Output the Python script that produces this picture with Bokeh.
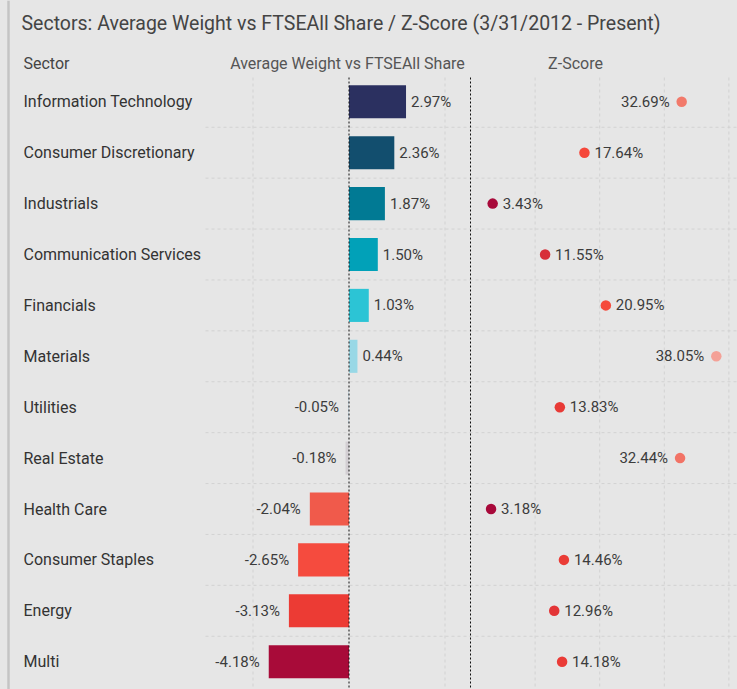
from bokeh.plotting import figure
from bokeh.models import Range1d, ColumnDataSource, GlobalInlineStyleSheet
from bokeh.core.properties import value
from bokeh.embed import file_html
from bokeh.resources import INLINE

# ---------------- data ----------------
sectors = ["Information Technology", "Consumer Discretionary", "Industrials",
           "Communication Services", "Financials", "Materials", "Utilities",
           "Real Estate", "Health Care", "Consumer Staples", "Energy", "Multi"]
avg_weight = [2.97, 2.36, 1.87, 1.50, 1.03, 0.44, -0.05, -0.18, -2.04, -2.65, -3.13, -4.18]
z_score = [32.69, 17.64, 3.43, 11.55, 20.95, 38.05, 13.83, 32.44, 3.18, 14.46, 12.96, 14.18]
bar_colors = ["#2b3060", "#124e6e", "#017a94", "#01a1b8", "#2cc4d5", "#98d8e6",
              "#c8d6de", "#d3cfd3", "#f05a4b", "#f54b3e", "#ec3b34", "#a80b39"]
dot_colors = ["#f27a6b", "#f5473a", "#a8093a", "#d72f38", "#f54a3b", "#f4a197",
              "#e83a36", "#f27366", "#a8093a", "#ea3c36", "#e33537", "#ea3b37"]
bar_grid_ticks = [-5, 5]
z_grid_ticks = [10, 20, 30, 40]
title_text = "Sectors:  Average Weight vs FTSEAll Share / Z-Score (3/31/2012 - Present)"
header_sector = "Sector"
header_weight = "Average Weight vs FTSEAll Share"
header_z = "Z-Score"

# ---------------- geometry (picture pixels) ----------------
W, H = 737, 689
OFF = 0
BAR_ZERO, BAR_PX = 348.5, 19.2
Z_ZERO, Z_PX = 470.0, 6.46
ROW0, ROW_H = 101.3, 50.9
FRAME_TOP = 77
GRID_LEFT = 205
FONT = value("Roboto")
BG = "#e6e6e6"


def bx(px):
    return (px - BAR_ZERO) / BAR_PX


def zx(px):
    return (px - Z_ZERO) / Z_PX


def ry(py):
    return (py - ROW0) / ROW_H


p = figure(width=W, height=H, output_backend="svg", toolbar_location=None,
           x_range=Range1d(bx(OFF), bx(OFF + W)),
           y_range=Range1d(ry(OFF + H), ry(OFF)),
           x_axis_location=None, y_axis_location=None,
           min_border=0, outline_line_color=None)
p.extra_x_ranges = {"z": Range1d(zx(OFF), zx(OFF + W))}
p.grid.visible = False
p.background_fill_color = BG
p.border_fill_color = BG
p.stylesheets = [GlobalInlineStyleSheet(css="html,body{background:%s;}" % BG)]

idx = list(range(len(sectors)))
y_top, y_bot = ry(FRAME_TOP), ry(OFF + H)
grid_col = "#d2d2d2"

# horizontal grid lines between rows
hy = [i + 0.5 for i in idx[:-1]]
p.segment(x0=bx(GRID_LEFT), x1=bx(OFF + W), y0=hy, y1=hy,
          line_color=grid_col, line_width=1, line_dash="3 3")
# vertical grid lines
p.segment(x0=bar_grid_ticks, x1=bar_grid_ticks, y0=y_top, y1=y_bot,
          line_color=grid_col, line_width=1, line_dash="3 3")
p.segment(x0=z_grid_ticks, x1=z_grid_ticks, y0=y_top, y1=y_bot, x_range_name="z",
          line_color=grid_col, line_width=1, line_dash="3 3")

# left border
p.segment(x0=bx(8), x1=bx(8), y0=ry(OFF + H), y1=ry(OFF),
          line_color="#c4c4c4", line_width=2.5)

# bars
p.hbar(y=idx, left=0, right=avg_weight, height=0.65, fill_color=bar_colors,
       line_color=None)

# zero lines
p.segment(x0=[0], x1=[0], y0=y_top, y1=y_bot, line_color="#111111",
          line_width=1, line_dash="2 2")
p.segment(x0=[0], x1=[0], y0=y_top, y1=y_bot, x_range_name="z",
          line_color="#111111", line_width=1, line_dash="2 2")

# bar labels
bsrc = ColumnDataSource(dict(
    x=avg_weight, y=idx,
    text=["%.2f%%" % v for v in avg_weight],
    align=["left" if v >= 0 else "right" for v in avg_weight],
    off=[5 if v >= 0 else -9 for v in avg_weight],
))
p.text(x="x", y="y", text="text", source=bsrc, text_align="align", x_offset="off",
       text_baseline="middle", text_font=FONT, text_font_size="15px",
       text_color="#3c3c3c")

# z-score dots and labels
p.scatter(x=z_score, y=idx, x_range_name="z", size=10.5, fill_color=dot_colors,
          line_color=None)
zsrc = ColumnDataSource(dict(
    x=z_score, y=idx,
    text=["%.2f%%" % v for v in z_score],
    align=["right" if v > 30 else "left" for v in z_score],
    off=[-12 if v > 30 else 10 for v in z_score],
))
p.text(x="x", y="y", text="text", source=zsrc, x_range_name="z",
       text_align="align", x_offset="off", text_baseline="middle",
       text_font=FONT, text_font_size="15px", text_color="#3c3c3c")

# row labels
p.text(x=[bx(23)] * len(sectors), y=idx, text=sectors, text_align="left",
       text_baseline="middle", text_font=FONT, text_font_size="16px",
       text_color="#333333")

# headers
p.text(x=[bx(23)], y=[ry(63)], text=[header_sector], text_align="left",
       text_baseline="middle", text_font=FONT, text_font_size="16px",
       text_color="#444444")
p.text(x=[bx(347)], y=[ry(63)], text=[header_weight], text_align="center",
       text_baseline="middle", text_font=FONT, text_font_size="16px",
       text_color="#555555")
p.text(x=[bx(575)], y=[ry(63)], text=[header_z], text_align="center",
       text_baseline="middle", text_font=FONT, text_font_size="16px",
       text_color="#555555")

# title
p.text(x=[bx(21)], y=[ry(23)], text=[title_text], text_align="left",
       text_baseline="middle", text_font=FONT, text_font_size="19.5px",
       text_color="#444444")

open("out.html", "w").write(file_html(p, INLINE))
